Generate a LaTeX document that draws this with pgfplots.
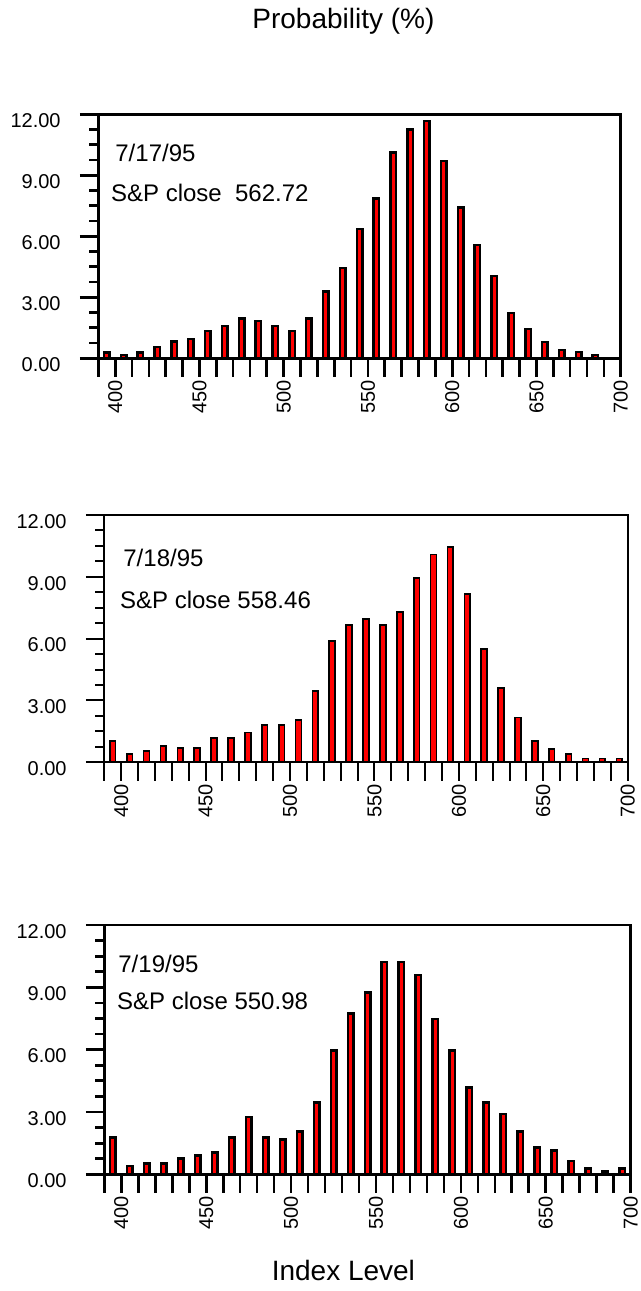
\documentclass[border=0pt]{standalone}
\usepackage{fontspec}
\setmainfont{Liberation Sans}
\usepackage{pgfplots}
\usepackage{pgfplotstable}
\pgfplotsset{compat=1.18}

% probability (%) per 10-point bin of the index, bars at bin centres
\pgfplotstableread{
x y
395 0.28
405 0.16
415 0.28
425 0.56
435 0.82
445 0.95
455 1.34
465 1.59
475 1.97
485 1.83
495 1.59
505 1.34
515 1.97
525 3.28
535 4.43
545 6.36
555 7.87
565 10.11
575 11.26
585 11.67
595 9.70
605 7.41
615 5.57
625 4.06
635 2.24
645 1.44
655 0.80
665 0.41
675 0.30
685 0.16
}\dayone

\pgfplotstableread{
x y
395 1.05
405 0.40
415 0.55
425 0.79
435 0.68
445 0.68
455 1.18
465 1.18
475 1.44
485 1.81
495 1.81
505 2.05
515 3.46
525 5.89
535 6.65
545 6.94
555 6.65
565 7.28
575 8.94
585 10.09
595 10.46
605 8.17
615 5.50
625 3.59
635 2.18
645 1.05
655 0.66
665 0.40
675 0.18
685 0.18
695 0.18
}\daytwo

\pgfplotstableread{
x y
395 1.78
405 0.40
415 0.53
425 0.53
435 0.77
445 0.90
455 1.04
465 1.78
475 2.77
485 1.78
495 1.68
505 2.05
515 3.45
525 5.95
535 7.75
545 8.74
555 10.23
565 10.23
575 9.59
585 7.47
595 5.95
605 4.17
615 3.45
625 2.90
635 2.05
645 1.28
655 1.14
665 0.65
675 0.29
685 0.13
695 0.29
}\daythree

\pgfplotsset{
  panel/.style={
    scale only axis,
    anchor=south west,
    xmin=390, xmax=700, ymin=0, ymax=12,
    axis line style={line width=1.35pt},
    xtick={390,400,...,700},
    xticklabels={,400,,,,,450,,,,,500,,,,,550,,,,,600,,,,,650,,,,,700},
    ytick={0,3,...,12},
    minor y tick num=3,
    tick align=outside,
    xtick pos=left, ytick pos=left,
    major tick length=9.25pt, minor tick length=4.5pt,
    tick style={black, line width=1.35pt},
    tick label style={font=\fontsize{10}{12}\selectfont},
    yticklabel style={/pgf/number format/fixed, /pgf/number format/fixed zerofill,
      /pgf/number format/precision=2, /pgf/number format/assume math mode=true,
      anchor=east, inner sep=0pt, yshift=-3.2pt},
    yticklabel shift=9.4pt,
    xticklabel style={rotate=90, anchor=east, inner sep=0pt},
    xticklabel shift=1.6pt,
    ybar, bar width=2.75pt,
  },
  bars/.style={fill=red, draw=black, line width=1.25pt},
}

\begin{document}
\begin{tikzpicture}
\path[use as bounding box] (0,0) rectangle (320.5pt,-645.5pt);

\node[anchor=base, font=\fontsize{14}{16}\selectfont] at (171.7pt,-14.15pt) {Probability (\%)};

\begin{axis}[panel, at={(49.15pt,-179.15pt)}, width=261.2pt, height=122pt]
  \addplot[bars] table {\dayone};
\end{axis}
\node[anchor=base west, inner sep=0pt, font=\fontsize{12}{14}\selectfont] at (57.5pt,-80.5pt) {7/17/95};
\node[anchor=base west, inner sep=0pt, font=\fontsize{12}{14}\selectfont] at (55.35pt,-100.85pt) {S\&P close~~562.72};

\begin{axis}[panel, at={(52.15pt,-381.15pt)}, width=261.7pt, height=123.65pt,
    axis line style={line width=1pt}, tick style={line width=1pt}, bar width=2.9pt]
  \addplot[bars, line width=0.85pt] table {\daytwo};
\end{axis}
\node[anchor=base west, inner sep=0pt, font=\fontsize{12}{14}\selectfont] at (61.5pt,-283pt) {7/18/95};
\node[anchor=base west, inner sep=0pt, font=\fontsize{12}{14}\selectfont] at (59.85pt,-304.15pt) {S\&P close 558.46};

\begin{axis}[panel, at={(52.15pt,-587.15pt)}, width=263.2pt, height=124.65pt]
  \addplot[bars] table {\daythree};
\end{axis}
\node[anchor=base west, inner sep=0pt, font=\fontsize{12}{14}\selectfont] at (59pt,-486.35pt) {7/19/95};
\node[anchor=base west, inner sep=0pt, font=\fontsize{12}{14}\selectfont] at (58.4pt,-504.65pt) {S\&P close 550.98};

\node[anchor=base, font=\fontsize{14}{16}\selectfont] at (171.7pt,-640pt) {Index Level};
\end{tikzpicture}
\end{document}
